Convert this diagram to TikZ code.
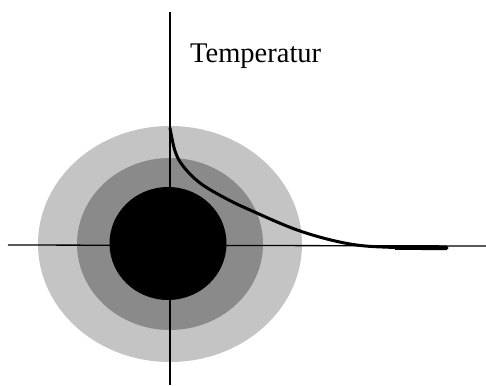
\documentclass[tikz,border=0pt]{standalone}
\usepackage{fontspec}
\setmainfont{Liberation Serif}
\usetikzlibrary{positioning}

\begin{document}
\begin{tikzpicture}[
    x=1pt, y=1pt,
    axis/.style={line width=1.3pt, black},
    curve/.style={line width=3pt, black, line cap=round},
    label/.style={font=\fontsize{28.5}{32}\selectfont, anchor=base west, inner sep=0pt}
]
\useasboundingbox (0,0) rectangle (486,385);
% zones round the source
\fill[black!23] (170,141) ellipse [x radius=132, y radius=118];
\fill[black!46] (170,141) ellipse [x radius=93, y radius=86];
\fill[black] (168,141.5) ellipse [x radius=58.5, y radius=56.5];
% axes
\coordinate (ytop) at (170,373);
\coordinate (ybot) at (170,0);
\coordinate (xleft) at (8,140);
\coordinate (xright) at (486,139);
\draw[axis] (ybot) -- (ytop);
\draw[axis] (xleft) -- (xright);
% falling temperature
\draw[curve] plot[smooth, tension=0.6] coordinates {(170,257) (175,234) (183,219) (200,202) (225,187) (250,175) (300,154) (350,141) (395,137.5) (447,137)};
\draw[line width=4.5pt] (395,137.5) -- (447,137);
\node[label] (temp) at (190,322) {Temperatur};
\end{tikzpicture}
\end{document}
